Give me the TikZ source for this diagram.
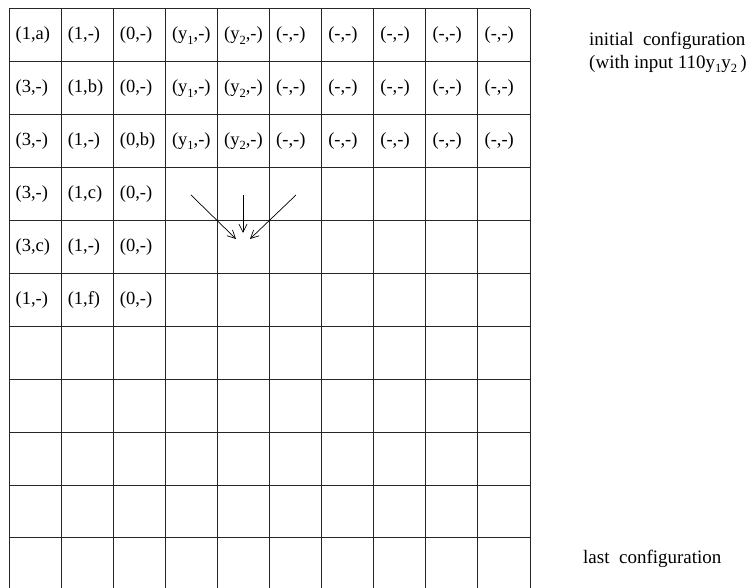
\documentclass[tikz,border=0pt]{standalone}
\usepackage{fontspec}
\setmainfont{Liberation Serif}
\usetikzlibrary{arrows.meta}
\tikzset{
  cell/.style={anchor=west,inner sep=0pt,font=\fontsize{18.5}{21}\selectfont},
  note/.style={anchor=west,inner sep=0pt,font=\fontsize{19}{21}\selectfont},
  gridline/.style={black!85,line width=1pt},
  flow/.style={-{Straight Barb[length=8pt,width=8pt]},line width=0.7pt}
}
\newcommand{\ysub}[1]{y\raisebox{-4.5pt}{\fontsize{12.5}{13}\selectfont #1}}

\begin{document}
\begin{tikzpicture}[x=1pt,y=1pt]
\useasboundingbox (0,0) rectangle (750,588);
% columns
\draw[gridline] (9.0,0) -- (9.0,579);
\draw[gridline] (61.1,0) -- (61.1,579);
\draw[gridline] (113.2,0) -- (113.2,579);
\draw[gridline] (165.3,0) -- (165.3,579);
\draw[gridline] (217.4,0) -- (217.4,579);
\draw[gridline] (269.5,0) -- (269.5,579);
\draw[gridline] (321.6,0) -- (321.6,579);
\draw[gridline] (373.7,0) -- (373.7,579);
\draw[gridline] (425.8,0) -- (425.8,579);
\draw[gridline] (477.9,0) -- (477.9,579);
\draw[gridline] (530.0,0) -- (530.0,579);
% rows
\draw[gridline] (9,579.0) -- (530,579.0);
\draw[gridline] (9,526.1) -- (530,526.1);
\draw[gridline] (9,473.2) -- (530,473.2);
\draw[gridline] (9,420.3) -- (530,420.3);
\draw[gridline] (9,367.4) -- (530,367.4);
\draw[gridline] (9,314.5) -- (530,314.5);
\draw[gridline] (9,261.6) -- (530,261.6);
\draw[gridline] (9,208.7) -- (530,208.7);
\draw[gridline] (9,155.8) -- (530,155.8);
\draw[gridline] (9,102.9) -- (530,102.9);
\draw[gridline] (9,50.0) -- (530,50.0);
% row 1
\node[cell] (c11) at (15.5,552.5) {(1,a)};
\node[cell] (c12) at (67.6,552.5) {(1,-)};
\node[cell] (c13) at (119.7,552.5) {(0,-)};
\node[cell] (c14) at (171.8,552.5) {(\ysub{1},-)};
\node[cell] (c15) at (223.9,552.5) {(\ysub{2},-)};
\node[cell] (c16) at (276.0,552.5) {(-,-)};
\node[cell] (c17) at (328.1,552.5) {(-,-)};
\node[cell] (c18) at (380.2,552.5) {(-,-)};
\node[cell] (c19) at (432.3,552.5) {(-,-)};
\node[cell] (c110) at (484.4,552.5) {(-,-)};
% row 2
\node[cell] (c21) at (15.5,499.6) {(3,-)};
\node[cell] (c22) at (67.6,499.6) {(1,b)};
\node[cell] (c23) at (119.7,499.6) {(0,-)};
\node[cell] (c24) at (171.8,499.6) {(\ysub{1},-)};
\node[cell] (c25) at (223.9,499.6) {(\ysub{2},-)};
\node[cell] (c26) at (276.0,499.6) {(-,-)};
\node[cell] (c27) at (328.1,499.6) {(-,-)};
\node[cell] (c28) at (380.2,499.6) {(-,-)};
\node[cell] (c29) at (432.3,499.6) {(-,-)};
\node[cell] (c210) at (484.4,499.6) {(-,-)};
% row 3
\node[cell] (c31) at (15.5,446.7) {(3,-)};
\node[cell] (c32) at (67.6,446.7) {(1,-)};
\node[cell] (c33) at (119.7,446.7) {(0,b)};
\node[cell] (c34) at (171.8,446.7) {(\ysub{1},-)};
\node[cell] (c35) at (223.9,446.7) {(\ysub{2},-)};
\node[cell] (c36) at (276.0,446.7) {(-,-)};
\node[cell] (c37) at (328.1,446.7) {(-,-)};
\node[cell] (c38) at (380.2,446.7) {(-,-)};
\node[cell] (c39) at (432.3,446.7) {(-,-)};
\node[cell] (c310) at (484.4,446.7) {(-,-)};
% rows 4-6
\node[cell] (c41) at (15.5,393.8) {(3,-)};
\node[cell] (c42) at (67.6,393.8) {(1,c)};
\node[cell] (c43) at (119.7,393.8) {(0,-)};
\node[cell] (c51) at (15.5,340.9) {(3,c)};
\node[cell] (c52) at (67.6,340.9) {(1,-)};
\node[cell] (c53) at (119.7,340.9) {(0,-)};
\node[cell] (c61) at (15.5,288.0) {(1,-)};
\node[cell] (c62) at (67.6,288.0) {(1,f)};
\node[cell] (c63) at (119.7,288.0) {(0,-)};
% arrows into the next cell
\coordinate (left) at (191,393);
\coordinate (mid) at (243,393);
\coordinate (right) at (296,393);
\coordinate (leftend) at (236,349);
\coordinate (midend) at (243,355);
\coordinate (rightend) at (250,349);
\draw[flow] (left) -- (leftend);
\draw[flow] (mid) -- (midend);
\draw[flow] (right) -- (rightend);
% labels
\node[note] (init) at (589,547) {initial\ \ configuration};
\node[note] (input) at (589,524) {(with input 110\ysub{1}\ysub{2}\,)};
\node[note] (last) at (583,29) {last\ \ configuration};
\end{tikzpicture}
\end{document}
